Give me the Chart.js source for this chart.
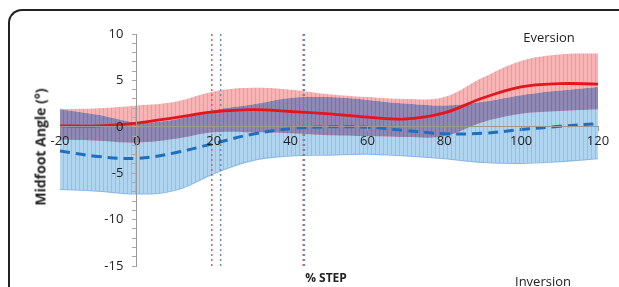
<!DOCTYPE html>
<html>
<head>
<meta charset="utf-8">
<script src="https://cdn.jsdelivr.net/npm/chart.js@4"></script>
<style>
  html, body { margin: 0; padding: 0; background: #fff; }
  #wrap { position: relative; width: 619px; height: 287px; overflow: hidden; font-family: "Open Sans", sans-serif; }
  #frame { position: absolute; left: 8px; top: 9px; width: 700px; height: 400px;
           border-top: 2px solid #222; border-left: 2px solid #222; border-top-left-radius: 14px; }
  canvas { position: absolute; left: 0; top: 0; }
  .lbl { position: absolute; color: #222; white-space: nowrap; transform: translate(-50%, -50%); }
  #ytitle { left: 40px; top: 147px; font-weight: bold; font-size: 14px; transform: translate(-50%, -50%) rotate(-90deg); }
  #xtitle { left: 326px; top: 277px; font-weight: bold; font-size: 12px; }
  #ever { left: 549px; top: 37px; font-size: 13px; }
  #inver { left: 543px; top: 281px; font-size: 13px; }
</style>
</head>
<body>
<div id="wrap">
  <div id="frame"></div>
  <canvas id="chart" width="619" height="287"></canvas>
  <div class="lbl" id="ytitle">Midfoot Angle (°)</div>
  <div class="lbl" id="xtitle">% STEP</div>
  <div class="lbl" id="ever">Eversion</div>
  <div class="lbl" id="inver">Inversion</div>
</div>
<script>
// --- data ---
const steps = [-20, -10, 0, 10, 20, 30, 40, 50, 60, 70, 80, 90, 100, 110, 120];
const redMean  = [0.1, 0.1, 0.4, 1.0, 1.6, 1.85, 1.65, 1.4, 1.05, 0.85, 1.5, 3.1, 4.3, 4.65, 4.6];
const redUpper = [1.9, 2.0, 2.3, 2.7, 3.8, 4.2, 4.0, 3.5, 3.2, 3.0, 3.2, 5.3, 7.1, 7.8, 7.9];
const redLower = [-1.4, -1.5, -1.7, -1.3, -0.6, -0.6, -0.7, -0.9, -1.0, -1.1, -1.0, 0.5, 1.4, 1.7, 1.9];
const blueMean  = [-2.6, -3.2, -3.4, -2.8, -1.8, -0.8, -0.2, 0.0, -0.05, -0.4, -0.75, -0.7, -0.3, 0.05, 0.35];
const blueUpper = [1.9, 1.3, 0.5, 0.8, 1.8, 2.4, 3.1, 3.2, 2.9, 2.5, 2.3, 2.7, 3.4, 3.9, 4.3];
const blueLower = [-6.7, -6.9, -7.2, -6.8, -5.0, -3.6, -3.1, -3.0, -2.9, -3.1, -3.4, -3.8, -3.9, -3.7, -3.4];
const eventRed = [19.5, 43.3];
const eventBlue = [21.8, 43.6];
const yMin = -15, yMax = 10;

const font = "'Open Sans', sans-serif";
const ctx = document.getElementById("chart").getContext("2d");

// vertical hatch like the dense error bars of the original
function stripes(base, line) {
  const c = document.createElement("canvas");
  c.width = 4; c.height = 1;
  const g = c.getContext("2d");
  g.fillStyle = base; g.fillRect(0, 0, 4, 1);
  g.fillStyle = line; g.fillRect(3, 0, 1, 1);
  return ctx.createPattern(c, "repeat");
}
const redFill = stripes("#f8b3b5", "#ec9aa2");
const blueFill = stripes("#afd5f1", "#8fc0e6");
const purpleFill = stripes("#9088b4", "#7c73a3");

const pts = arr => steps.map((x, i) => ({ x, y: arr[i] }));
const eventLine = (x, color) => ({
  data: [{ x, y: yMax }, { x, y: yMin }],
  borderColor: color, borderWidth: 1.5, borderDash: [2, 3], fill: false
});

const datasets = [
  { data: pts(redMean), borderColor: "#e3161c", borderWidth: 2.8, fill: false },
  { data: pts(blueMean), borderColor: "#1f6fc0", borderWidth: 3, borderDash: [10, 6], fill: false }
];
eventRed.forEach(x => datasets.push(eventLine(x, "#d75b68")));
eventBlue.forEach(x => datasets.push(eventLine(x, "#6f8ca8")));

const iRedLo = datasets.length;
const iBlueHi = iRedLo + 2;
const iBlueLo = iRedLo + 3;
datasets.push(
  // overlap of the two bands
  { data: pts(redLower), borderWidth: 0, fill: { target: iBlueHi, above: "rgba(0,0,0,0)", below: purpleFill } },
  { data: pts(redUpper), borderWidth: 0, backgroundColor: redFill, fill: iRedLo },
  { data: pts(blueUpper), borderWidth: 1.5, borderColor: "rgba(110,165,220,0.8)", backgroundColor: blueFill, fill: iBlueLo },
  { data: pts(blueLower), borderWidth: 2, borderColor: "rgba(110,165,220,0.8)", fill: false }
);
datasets.forEach(d => { d.pointRadius = 0; d.tension = d.data.length > 2 ? 0.4 : 0; });

new Chart(ctx, {
  type: "line",
  data: { datasets },
  options: {
    responsive: false,
    animation: false,
    layout: { padding: { left: 60, right: 21, top: 34, bottom: 21 }, autoPadding: false },
    plugins: { legend: { display: false }, tooltip: { enabled: false } },
    scales: {
      x: {
        type: "linear", min: -20, max: 120, position: { y: 0 },
        ticks: { z: 1, stepSize: 20, color: "#222", font: { family: font, size: 13 }, padding: 3, maxRotation: 0 },
        grid: { z: 1, drawOnChartArea: false, tickLength: 4, color: "#999" },
        border: { z: 1, color: "#999" },
        afterFit: s => { s.height = 0; }
      },
      y: {
        min: yMin, max: yMax, position: { x: 0 },
        ticks: { z: 1, stepSize: 1, autoSkip: false, color: "#222", font: { family: font, size: 13 },
                 // centred axes ignore padding, so pad with trailing spaces
                 callback: v => (v % 5 === 0 ? v + "    " : "") },
        grid: { z: 1, drawOnChartArea: false, tickLength: 4, color: "#aaa" },
        border: { z: 1, color: "#999" },
        afterFit: s => { s.width = 0; }
      }
    }
  }
});
</script>
</body>
</html>
